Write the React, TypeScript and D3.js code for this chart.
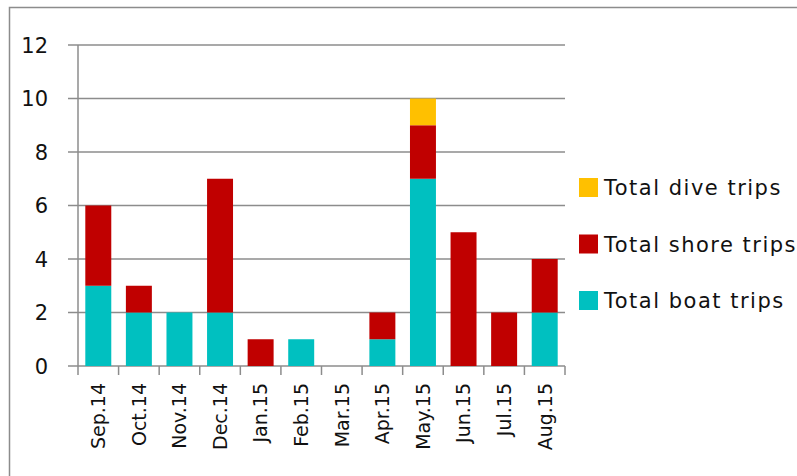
import { useEffect, useRef } from "react";
import * as d3 from "d3";

const months = ["Sep.14", "Oct.14", "Nov.14", "Dec.14", "Jan.15", "Feb.15", "Mar.15", "Apr.15", "May.15", "Jun.15", "Jul.15", "Aug.15"];
const boatTrips = [3, 2, 2, 2, 0, 1, 0, 1, 7, 0, 0, 2];
const shoreTrips = [3, 1, 0, 5, 1, 0, 0, 1, 2, 5, 2, 2];
const diveTrips = [0, 0, 0, 0, 0, 0, 0, 0, 1, 0, 0, 0];
const yTicks = [0, 2, 4, 6, 8, 10, 12];

const seriesKeys = ["boat", "shore", "dive"] as const;
const seriesLabels: Record<string, string> = {
  boat: "Total boat trips",
  shore: "Total shore trips",
  dive: "Total dive trips",
};
const colors: Record<string, string> = { boat: "#00C0C0", shore: "#C00000", dive: "#FFC000" };

const App = () => {
  const svgRef = useRef<SVGSVGElement | null>(null);

  useEffect(() => {
    const width = 797;
    const height = 476;
    const margin = { top: 45, right: 232, bottom: 110, left: 78 };
    const font = "DejaVu Sans, sans-serif";

    const svg = d3.select(svgRef.current).attr("width", width).attr("height", height);
    svg.selectAll("*").remove();

    // outer chart border
    svg
      .append("rect")
      .attr("x", 9.5)
      .attr("y", 7.5)
      .attr("width", width + 20)
      .attr("height", height + 20)
      .attr("fill", "white")
      .attr("stroke", "#8c8c8c")
      .attr("stroke-width", 1.5);

    const rows = months.map((m, i) => ({ month: m, boat: boatTrips[i], shore: shoreTrips[i], dive: diveTrips[i] }));

    const x = d3
      .scaleBand()
      .domain(months)
      .range([margin.left, width - margin.right])
      .paddingInner(0.36)
      .paddingOuter(0.18);

    const y = d3
      .scaleLinear()
      .domain([0, 12])
      .range([height - margin.bottom, margin.top]);

    // gridlines + y ticks
    const grid = svg.append("g");
    grid
      .selectAll("line")
      .data(yTicks)
      .join("line")
      .attr("x1", margin.left - 10)
      .attr("x2", width - margin.right)
      .attr("y1", (d) => y(d))
      .attr("y2", (d) => y(d))
      .attr("stroke", "#8c8c8c")
      .attr("stroke-width", 1.5);

    grid
      .selectAll("text")
      .data(yTicks)
      .join("text")
      .attr("x", 48)
      .attr("y", (d) => y(d))
      .attr("dy", "0.36em")
      .attr("text-anchor", "end")
      .attr("font-family", font)
      .attr("font-size", 21)
      .attr("fill", "#111")
      .text((d) => d);

    // stacked bars
    const stack = d3.stack<any>().keys(seriesKeys as any)(rows);
    svg
      .append("g")
      .selectAll("g")
      .data(stack)
      .join("g")
      .attr("fill", (s) => colors[s.key])
      .selectAll("rect")
      .data((s) => s)
      .join("rect")
      .attr("x", (d: any) => x(d.data.month) as number)
      .attr("width", x.bandwidth())
      .attr("y", (d) => y(d[1]))
      .attr("height", (d) => y(d[0]) - y(d[1]));

    // y axis line
    svg
      .append("line")
      .attr("x1", margin.left)
      .attr("x2", margin.left)
      .attr("y1", y(12))
      .attr("y2", y(0))
      .attr("stroke", "#8c8c8c")
      .attr("stroke-width", 1.5);

    // x axis ticks between categories
    const tickXs = d3.range(months.length + 1).map((i) => margin.left + i * x.step() - (i === 0 ? 0 : 0) + (i === 0 ? 0 : x.step() * 0 ));
    svg
      .append("g")
      .selectAll("line")
      .data(tickXs.map((_, i) => margin.left + ((width - margin.right - margin.left) * i) / months.length))
      .join("line")
      .attr("x1", (d) => d)
      .attr("x2", (d) => d)
      .attr("y1", y(0))
      .attr("y2", y(0) + 9)
      .attr("stroke", "#8c8c8c")
      .attr("stroke-width", 1.5);

    // x labels rotated
    svg
      .append("g")
      .selectAll("text")
      .data(months)
      .join("text")
      .attr("transform", (d) => `translate(${(x(d) as number) + x.bandwidth() / 2},383) rotate(-90)`)
      .attr("dy", "0.36em")
      .attr("text-anchor", "end")
      .attr("font-family", font)
      .attr("font-size", 19)
      .attr("fill", "#111")
      .text((d) => d);

    // legend
    const legendItems = ["dive", "shore", "boat"];
    const legend = svg.append("g").attr("transform", "translate(579,178)");
    const item = legend
      .selectAll("g")
      .data(legendItems)
      .join("g")
      .attr("transform", (_: any, i: number) => `translate(0,${i * 56.5})`);
    item.append("rect").attr("width", 19).attr("height", 19).attr("fill", (d) => colors[d]);
    item
      .append("text")
      .attr("x", 25)
      .attr("y", 9.5)
      .attr("dy", "0.36em")
      .attr("font-family", font)
      .attr("font-size", 21)
      .attr("letter-spacing", 1.5)
      .attr("fill", "#111")
      .text((d) => seriesLabels[d]);
  }, []);

  return (
    <div style={{ position: "absolute", left: 0, top: 0 }}>
      <svg ref={svgRef} style={{ display: "block" }} />
    </div>
  );
};

export default App;
